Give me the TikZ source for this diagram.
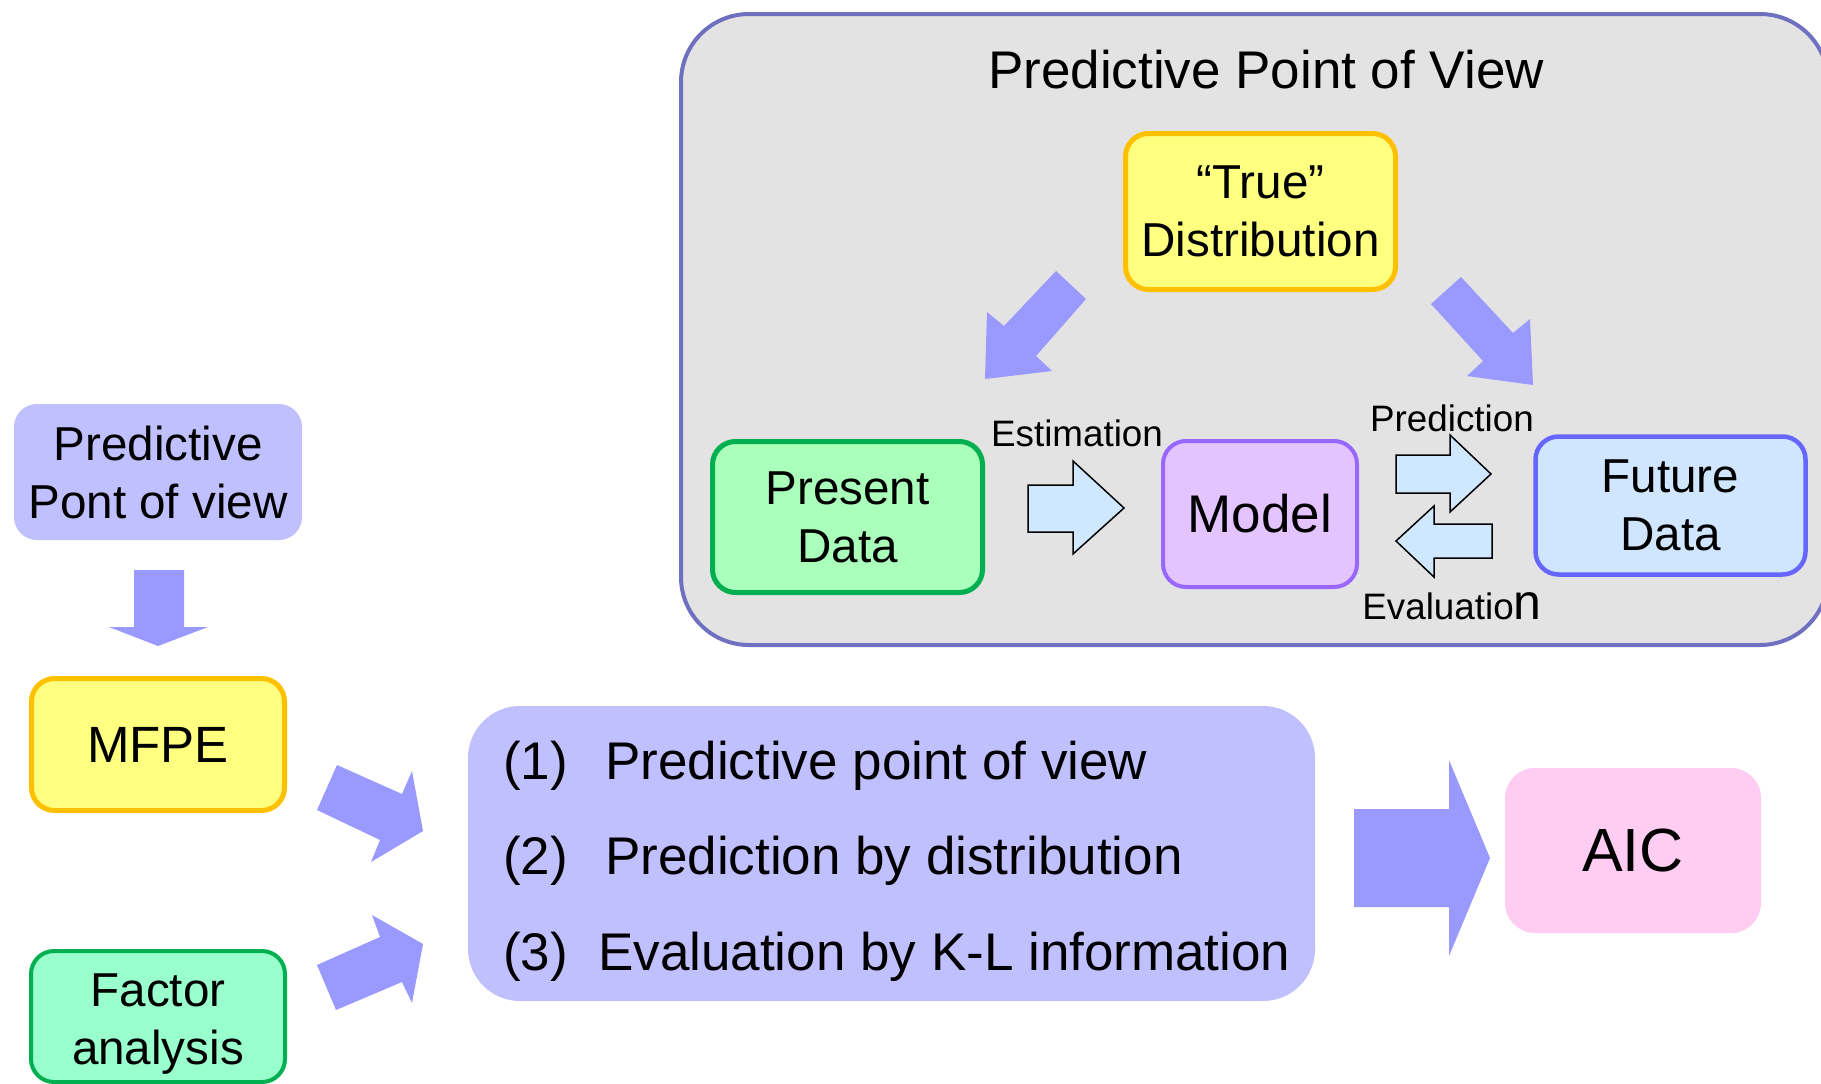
\documentclass[tikz,border=0pt]{standalone}
\usepackage{fontspec}
\setmainfont{Liberation Sans}
\definecolor{panelfill}{HTML}{E3E3E3}
\definecolor{panelline}{HTML}{7070C0}
\definecolor{arrowblue}{HTML}{9999FF}
\definecolor{lavender}{HTML}{C0C0FF}
\definecolor{yellowfill}{HTML}{FFFF80}
\definecolor{orangeline}{HTML}{FFC000}
\definecolor{greenline}{HTML}{00B050}
\definecolor{presentfill}{HTML}{AAFFBB}
\definecolor{factorfill}{HTML}{99FFCC}
\definecolor{modelfill}{HTML}{E4C4FF}
\definecolor{modelline}{HTML}{9966FF}
\definecolor{futurefill}{HTML}{D0E6FF}
\definecolor{futureline}{HTML}{6666FF}
\definecolor{paleblue}{HTML}{D0E8FF}
\definecolor{pinkfill}{HTML}{FFCCF2}
\begin{document}
\begin{tikzpicture}[x=1pt,y=-1pt,
  box/.style={rounded corners=23pt, align=center, inner sep=0pt, text=black},
  boxtext/.style={font=\fontsize{47.6}{58}\selectfont},
  blockarrow/.style={fill=arrowblue, draw=none},
  hollowarrow/.style={fill=paleblue, draw=black, line width=1.5pt, line join=miter},
  smalllabel/.style={font=\fontsize{36.8}{44}\selectfont, inner sep=0pt},
  listtext/.style={font=\fontsize{53}{64}\selectfont, anchor=base west, inner sep=0pt}]
\useasboundingbox (0,0) rectangle (1821,1084);

% panel holding the predictive point of view scheme
\draw[fill=panelfill, draw=panelline, line width=4pt, rounded corners=68pt]
  (681,14) rectangle (1828,645);
\node[font=\fontsize{53}{64}\selectfont, inner sep=0pt] (title) at (1266,70)
  {Predictive Point of View};

% boxes of the scheme
\node[box, boxtext, fill=yellowfill, draw=orangeline, line width=5pt,
  minimum width=270pt, minimum height=156pt] (true) at (1260.5,211.5)
  {“True”\\Distribution};
\node[box, boxtext, fill=presentfill, draw=greenline, line width=5pt,
  minimum width=270pt, minimum height=151pt] (present) at (847.5,517)
  {Present\\Data};
\node[box, fill=modelfill, draw=modelline, line width=4pt,
  font=\fontsize{53}{64}\selectfont,
  minimum width=194pt, minimum height=146pt] (model) at (1260,514) {Model};
\node[box, boxtext, fill=futurefill, draw=futureline, line width=4.5pt,
  minimum width=270pt, minimum height=138pt] (future) at (1670.5,505.5)
  {Future\\Data};

% arrows from the true distribution
\draw[blockarrow] (985,379) -- (987,312) -- (1004,326) -- (1056,271)
  -- (1086,299) -- (1036,356) -- (1052,371) -- cycle;
\draw[blockarrow] (1533,385) -- (1467,376) -- (1483,361) -- (1431,304)
  -- (1461,277) -- (1513,333) -- (1530,319) -- cycle;

% estimation, prediction and evaluation
\draw[hollowarrow] (1028,485) -- (1073,485) -- (1073,461) -- (1124,508)
  -- (1073,554) -- (1073,532) -- (1028,532) -- cycle;
\draw[hollowarrow] (1396,455) -- (1450,455) -- (1450,435) -- (1491,474)
  -- (1450,512) -- (1450,493) -- (1396,493) -- cycle;
\draw[hollowarrow] (1492,524) -- (1434,524) -- (1434,506) -- (1396,541)
  -- (1434,577) -- (1434,558) -- (1492,558) -- cycle;
\node[smalllabel] (estimation) at (1077,433) {Estimation};
\node[smalllabel] (prediction) at (1452,418) {Prediction};
\node[smalllabel] (evaluation) at (1452,606)
  {Evaluatio{\fontsize{50}{60}\selectfont n}};

% left column
\node[box, boxtext, fill=lavender, minimum width=288pt, minimum height=136pt]
  (ppv) at (158,472) {Predictive\\Pont of view};
\node[box, fill=yellowfill, draw=orangeline, line width=5pt,
  font=\fontsize{51}{60}\selectfont,
  minimum width=253pt, minimum height=132pt] (mfpe) at (158,744.5) {MFPE};
\node[box, fill=factorfill, draw=greenline, line width=4pt,
  minimum width=254pt, minimum height=131pt] (factor) at (158,1016.5) {};
\node[boxtext, align=center, inner sep=0pt, text depth=0pt]
  (factortext) at ([yshift=-3pt]factor.center) {Factor\\analysis};
\draw[blockarrow] (134,570) -- (184,570) -- (184,627) -- (208,627)
  -- (158,646) -- (109,627) -- (134,627) -- cycle;

% arrows into the list of ideas
\draw[blockarrow] (337,765) -- (402,794) -- (412,771) -- (423,831)
  -- (371,862) -- (380,840) -- (317,810) -- cycle;
\draw[blockarrow] (317,965) -- (380,937) -- (372,915) -- (423,944)
  -- (412,1003) -- (402,982) -- (336,1010) -- cycle;

% list of ideas
\node[fill=lavender, rounded corners=52pt, inner sep=0pt,
  minimum width=847pt, minimum height=295pt] (list) at (891.5,853.5) {};
\node[listtext] (n1) at (503,779) {(1)};
\node[listtext] (t1) at (605,779) {Predictive point of view};
\node[listtext] (n2) at (503,874) {(2)};
\node[listtext] (t2) at (605,874) {Prediction by distribution};
\node[listtext] (n3) at (503,970) {(3)};
\node[listtext] (t3) at (598,970) {Evaluation by K-L information};

% result
\draw[blockarrow] (1354,809) -- (1449,809) -- (1449,760) -- (1490,858)
  -- (1449,956) -- (1449,907) -- (1354,907) -- cycle;
\node[box, fill=pinkfill, rounded corners=30pt,
  font=\fontsize{61}{72}\selectfont,
  minimum width=256pt, minimum height=165pt] (aic) at (1633,850.5) {AIC};
\end{tikzpicture}
\end{document}
